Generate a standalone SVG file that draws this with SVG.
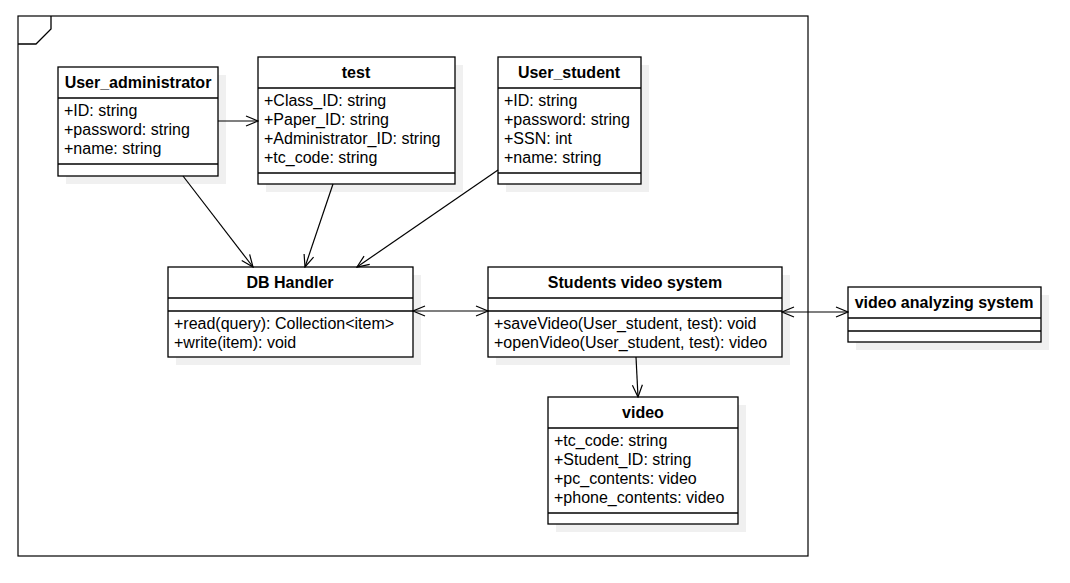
<svg xmlns="http://www.w3.org/2000/svg" width="1070" height="583" viewBox="0 0 1070 583">
<defs>
<style>
.box{fill:#fff;stroke:#000;stroke-width:1.3}
.sh{fill:#f0f0f0;stroke:none}
.ln{stroke:#000;stroke-width:1.3;fill:none}
.t{font-family:"Liberation Sans",Arial,sans-serif;font-size:16px;fill:#000}
.b{font-weight:bold;text-anchor:middle}
.edge{stroke:#000;stroke-width:1.2;fill:none}
</style>
<marker id="open" viewBox="0 0 14 12" refX="13" refY="6" markerWidth="14" markerHeight="12" markerUnits="userSpaceOnUse" orient="auto-start-reverse">
<path d="M1,1 L13,6 L1,11" fill="none" stroke="#000" stroke-width="1.2"/>
</marker>
</defs>
<rect width="1070" height="583" fill="#fff"/>
<g id="frame">
<rect x="18" y="16" width="790" height="540" fill="none" stroke="#000" stroke-width="1.2"/>
<path d="M51,16 L51,29 L36,44 L18,44" class="ln" stroke-width="1.2"/>
</g>
<g id="User_administrator">
<rect class="sh" x="66" y="75" width="160" height="109"/>
<rect class="box" x="58" y="67" width="160" height="109"/>
<line class="ln" x1="58" y1="98" x2="218" y2="98"/>
<line class="ln" x1="58" y1="164" x2="218" y2="164"/>
<text class="t b" x="138" y="88">User_administrator</text>
<text class="t" x="64" y="116">+ID: string</text>
<text class="t" x="64" y="135">+password: string</text>
<text class="t" x="64" y="154">+name: string</text>
</g>
<g id="test">
<rect class="sh" x="266" y="65" width="197" height="127"/>
<rect class="box" x="258" y="57" width="197" height="127"/>
<line class="ln" x1="258" y1="88" x2="455" y2="88"/>
<line class="ln" x1="258" y1="173" x2="455" y2="173"/>
<text class="t b" x="356" y="78">test</text>
<text class="t" x="264" y="106">+Class_ID: string</text>
<text class="t" x="264" y="125">+Paper_ID: string</text>
<text class="t" x="264" y="144">+Administrator_ID: string</text>
<text class="t" x="264" y="163">+tc_code: string</text>
</g>
<g id="User_student">
<rect class="sh" x="506" y="65" width="143" height="127"/>
<rect class="box" x="498" y="57" width="143" height="127"/>
<line class="ln" x1="498" y1="88" x2="641" y2="88"/>
<line class="ln" x1="498" y1="173" x2="641" y2="173"/>
<text class="t b" x="569" y="78">User_student</text>
<text class="t" x="504" y="106">+ID: string</text>
<text class="t" x="504" y="125">+password: string</text>
<text class="t" x="504" y="144">+SSN: int</text>
<text class="t" x="504" y="163">+name: string</text>
</g>
<g id="DB_Handler">
<rect class="sh" x="176" y="275" width="245" height="90"/>
<rect class="box" x="168" y="267" width="245" height="90"/>
<line class="ln" x1="168" y1="298" x2="413" y2="298"/>
<line class="ln" x1="168" y1="311" x2="413" y2="311"/>
<text class="t b" x="290" y="288">DB Handler</text>
<text class="t" x="174" y="329">+read(query): Collection&lt;item&gt;</text>
<text class="t" x="174" y="348">+write(item): void</text>
</g>
<g id="Students_video_system">
<rect class="sh" x="496" y="275" width="294" height="90"/>
<rect class="box" x="488" y="267" width="294" height="90"/>
<line class="ln" x1="488" y1="298" x2="782" y2="298"/>
<line class="ln" x1="488" y1="311" x2="782" y2="311"/>
<text class="t b" x="635" y="288">Students video system</text>
<text class="t" x="494" y="329">+saveVideo(User_student, test): void</text>
<text class="t" x="494" y="348">+openVideo(User_student, test): video</text>
</g>
<g id="video_analyzing_system">
<rect class="sh" x="856" y="295" width="193" height="55"/>
<rect class="box" x="848" y="287" width="193" height="55"/>
<line class="ln" x1="848" y1="318" x2="1041" y2="318"/>
<line class="ln" x1="848" y1="331" x2="1041" y2="331"/>
<text class="t b" x="944" y="308">video analyzing system</text>
</g>
<g id="video">
<rect class="sh" x="556" y="405" width="190" height="127"/>
<rect class="box" x="548" y="397" width="190" height="127"/>
<line class="ln" x1="548" y1="428" x2="738" y2="428"/>
<line class="ln" x1="548" y1="513" x2="738" y2="513"/>
<text class="t b" x="643" y="418">video</text>
<text class="t" x="554" y="446">+tc_code: string</text>
<text class="t" x="554" y="465">+Student_ID: string</text>
<text class="t" x="554" y="484">+pc_contents: video</text>
<text class="t" x="554" y="503">+phone_contents: video</text>
</g>
<g id="connectors">
<line class="edge" x1="218" y1="121" x2="258" y2="121" marker-end="url(#open)"/>
<line class="edge" x1="183" y1="176" x2="253" y2="267" marker-end="url(#open)"/>
<line class="edge" x1="333" y1="184" x2="305" y2="267" marker-end="url(#open)"/>
<line class="edge" x1="498" y1="170" x2="357" y2="267" marker-end="url(#open)"/>
<line class="edge" x1="413" y1="311" x2="488" y2="311" marker-start="url(#open)" marker-end="url(#open)"/>
<line class="edge" x1="782" y1="312" x2="848" y2="312" marker-start="url(#open)" marker-end="url(#open)"/>
<line class="edge" x1="636" y1="357" x2="638" y2="397" marker-end="url(#open)"/>
</g>
</svg>
